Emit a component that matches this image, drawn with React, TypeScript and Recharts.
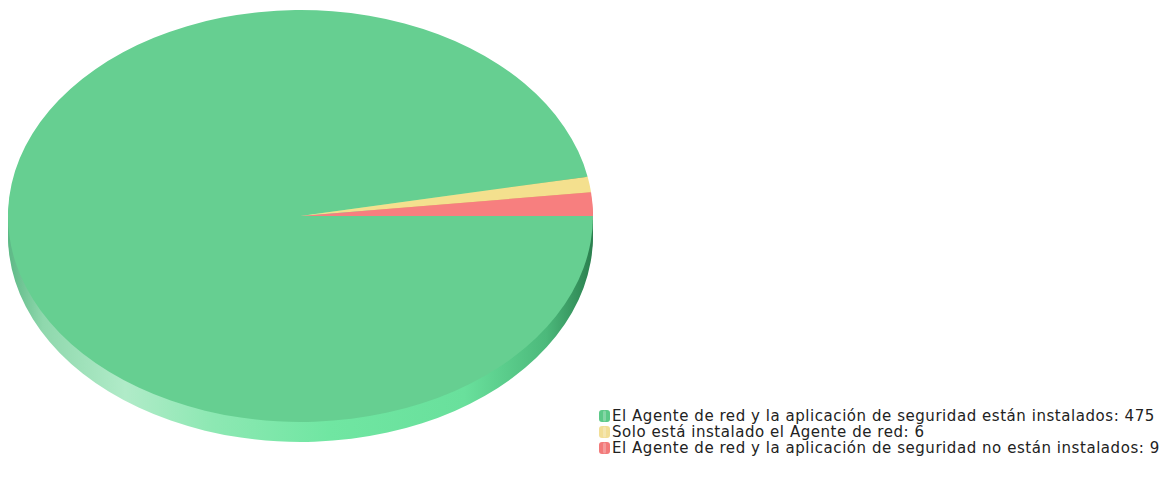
import React from "react";
import { PieChart, Pie, Cell } from "recharts";

const categories = [
  "El Agente de red y la aplicación de seguridad están instalados",
  "Solo está instalado el Agente de red",
  "El Agente de red y la aplicación de seguridad no están instalados",
];
const values = [475, 6, 9];
const topColors = ["#66CF91", "#F4E08E", "#F77F7F"];
const sideColors = ["url(#sideGreen)", "#D9C170", "#D96565"];
const iconColors = ["#5CC988", "#F2DE96", "#F27A7A"];

const data = categories.map((name, i) => ({ name, value: values[i] }));

const SCALE_Y = 0.704;
const CX = 300.5;
const CY = 216 / SCALE_Y;
const R = 292.5;
const DEPTH = 20 / SCALE_Y;
const LAYERS = [1, 0.8, 0.6, 0.4, 0.2];

export default function App() {
  return (
    <div
      style={{
        position: "absolute",
        left: 0,
        top: 0,
        width: 1166,
        height: 477,
        overflow: "hidden",
        background: "#ffffff",
      }}
    >
      <div
        style={{
          position: "absolute",
          left: 0,
          top: 0,
          transform: `scaleY(${SCALE_Y})`,
          transformOrigin: "0 0",
        }}
      >
        <PieChart width={620} height={680} margin={{ top: 0, right: 0, bottom: 0, left: 0 }}>
          <defs>
            <linearGradient id="sideGreen" x1="0" y1="0" x2="1" y2="0">
              <stop offset="0%" stopColor="#5cb885" />
              <stop offset="6%" stopColor="#8fd8ad" />
              <stop offset="20%" stopColor="#b0ebc8" />
              <stop offset="35%" stopColor="#8de8b3" />
              <stop offset="55%" stopColor="#70e6a2" />
              <stop offset="78%" stopColor="#69e09c" />
              <stop offset="92%" stopColor="#4cb97b" />
              <stop offset="100%" stopColor="#2a7f4e" />
            </linearGradient>
          </defs>
          {LAYERS.map((f, li) => (
            <Pie
              key={"side" + li}
              data={data}
              dataKey="value"
              nameKey="name"
              cx={CX}
              cy={CY + DEPTH * f}
              outerRadius={R}
              innerRadius={0}
              startAngle={0}
              endAngle={-360}
              stroke="none"
              isAnimationActive={false}
            >
              {data.map((d, i) => (
                <Cell key={d.name} fill={sideColors[i]} />
              ))}
            </Pie>
          ))}
          <Pie
            data={data}
            dataKey="value"
            nameKey="name"
            cx={CX}
            cy={CY}
            outerRadius={R}
            innerRadius={0}
            startAngle={0}
            endAngle={-360}
            stroke="none"
            isAnimationActive={false}
          >
            {data.map((d, i) => (
              <Cell key={d.name} fill={topColors[i]} />
            ))}
          </Pie>
        </PieChart>
      </div>
      <div
        style={{
          position: "absolute",
          left: 599,
          top: 408,
          fontFamily: "'DejaVu Sans', Verdana, sans-serif",
          fontSize: 15,
          letterSpacing: 0.55,
          lineHeight: "16px",
          color: "#222",
          whiteSpace: "nowrap",
        }}
      >
        {data.map((d, i) => (
          <div
            key={d.name}
            style={{ display: "flex", alignItems: "center", height: 16 }}
          >
            <svg width={12} height={14} style={{ marginRight: 1, flex: "none" }}>
              <rect x={0} y={1} width={11} height={12} rx={3} fill={iconColors[i]} />
              <rect x={4} y={1.5} width={3} height={11} rx={1.5} fill="#ffffff" opacity={0.25} />
            </svg>
            <span>{`${d.name}: ${d.value}`}</span>
          </div>
        ))}
      </div>
    </div>
  );
}
